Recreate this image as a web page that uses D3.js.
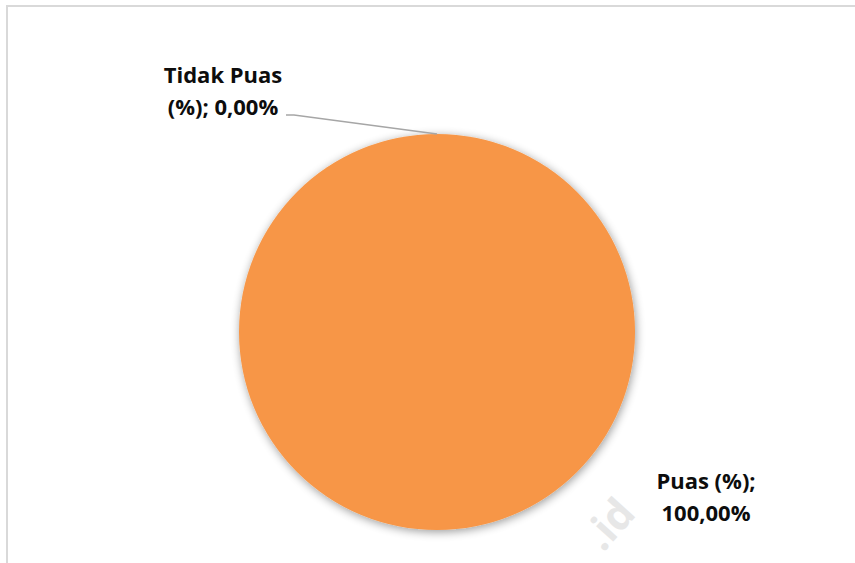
<!DOCTYPE html>
<html>
<head>
<meta charset="utf-8">
<script src="https://cdn.jsdelivr.net/npm/d3@7"></script>
<style>
  html, body { margin: 0; padding: 0; background: #fff; }
  svg { display: block; }
</style>
</head>
<body>
<svg id="chart" width="855" height="563"></svg>
<script>
// Survey result shares
const categories = ["Puas (%)", "Tidak Puas (%)"];
const values = [100, 0];
const colors = ["#f79646", "#4f81bd"];

const W = 855, H = 563;
const svg = d3.select("#chart");

// Drop shadow for the pie
const defs = svg.append("defs");
const f = defs.append("filter").attr("id", "pieShadow")
  .attr("x", "-20%").attr("y", "-20%").attr("width", "140%").attr("height", "140%");
f.append("feGaussianBlur").attr("in", "SourceAlpha").attr("stdDeviation", 5).attr("result", "b");
f.append("feOffset").attr("in", "b").attr("dx", 1).attr("dy", 2).attr("result", "o");
f.append("feComponentTransfer").attr("in", "o").attr("result", "s")
  .append("feFuncA").attr("type", "linear").attr("slope", 0.4);
const m = f.append("feMerge");
m.append("feMergeNode").attr("in", "s");
m.append("feMergeNode").attr("in", "SourceGraphic");

// Chart area frame
svg.append("rect")
  .attr("x", 7).attr("y", 6).attr("width", 860).attr("height", 600)
  .attr("fill", "#fff").attr("stroke", "#d9d9d9").attr("stroke-width", 2);

// Faint watermark
svg.append("text")
  .attr("transform", "translate(603,553) rotate(-48)")
  .attr("font-family", "'Open Sans', sans-serif")
  .attr("font-weight", 700).attr("font-size", 42)
  .attr("fill", "#e7e7e7")
  .text(".id");

const cx = 437, cy = 332, r = 198;
const g = svg.append("g").attr("transform", `translate(${cx},${cy})`);

const pie = d3.pie().sort(null).value(d => d.value);
const data = pie(categories.map((c, i) => ({ cat: c, value: values[i], color: colors[i] })));
const arc = d3.arc().innerRadius(0).outerRadius(r);

g.append("g").attr("filter", "url(#pieShadow)")
  .selectAll("path")
  .data(data.filter(d => d.data.value > 0))
  .join("path")
  .attr("d", arc)
  .attr("fill", d => d.data.color);

const fmt = v => d3.format(".2f")(v).replace(".", ",") + "%";

// Data label placement (page coordinates) and line split
const labelSpec = {
  "Tidak Puas (%)": { x: 223, y: 83, lines: d => ["Tidak Puas", "(%); " + fmt(d.data.value)], leader: [286, 115] },
  "Puas (%)": { x: 706, y: 489, lines: d => ["Puas (%);", fmt(d.data.value)], leader: null }
};

data.forEach(d => {
  const spec = labelSpec[d.data.cat];
  if (spec.leader) {
    const a = d.startAngle; // zero-width slice sits at its start angle
    const px = cx + Math.sin(a) * r, py = cy - Math.cos(a) * r;
    svg.append("polyline")
      .attr("points", `${spec.leader[0]},${spec.leader[1]} ${spec.leader[0] + 8},${spec.leader[1]} ${px},${py}`)
      .attr("fill", "none").attr("stroke", "#a6a6a6").attr("stroke-width", 1.5);
  }
  const t = svg.append("text")
    .attr("x", spec.x).attr("y", spec.y)
    .attr("text-anchor", "middle")
    .attr("font-family", "'Open Sans', sans-serif")
    .attr("font-weight", 700).attr("font-size", 22)
    .attr("fill", "#0d0d0d");
  spec.lines(d).forEach((ln, i) => {
    t.append("tspan").attr("x", spec.x).attr("dy", i === 0 ? 0 : 32).text(ln);
  });
});
</script>
</body>
</html>
